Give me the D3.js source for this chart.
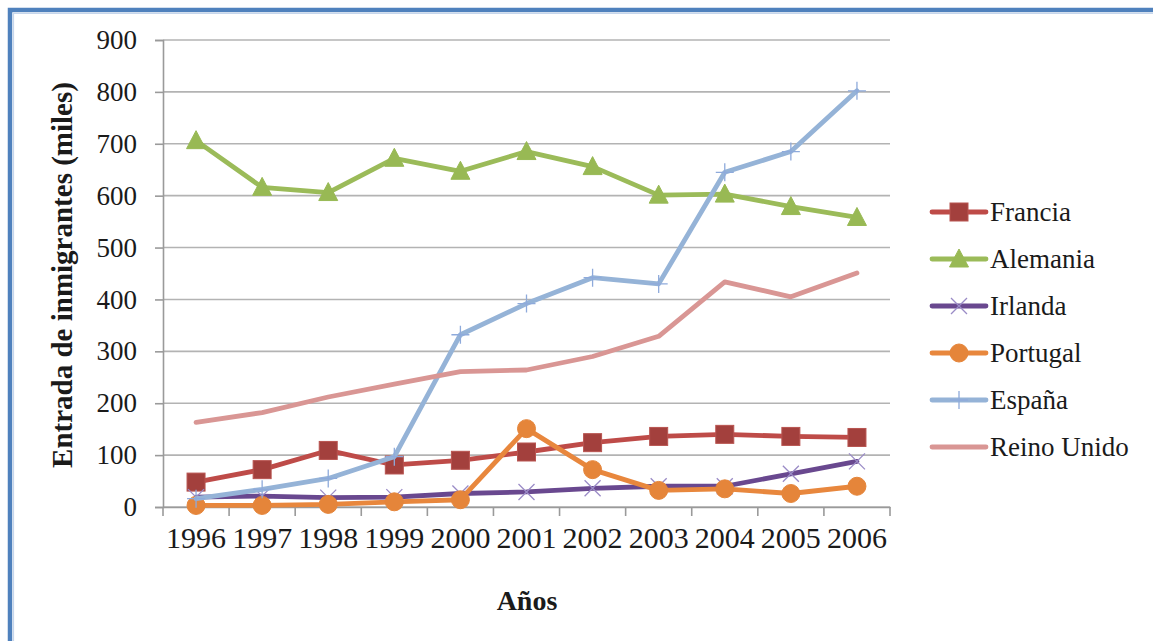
<!DOCTYPE html>
<html>
<head>
<meta charset="utf-8">
<script src="https://cdn.jsdelivr.net/npm/d3@7"></script>
<style>
  html, body { margin: 0; padding: 0; background: #fff; }
  svg { display: block; font-family: "Liberation Serif", "DejaVu Serif", serif; }
</style>
</head>
<body>
<svg id="chart" width="1153" height="641"></svg>
<script>
const years = ["1996", "1997", "1998", "1999", "2000", "2001", "2002", "2003", "2004", "2005", "2006"];
const yTicks = [0, 100, 200, 300, 400, 500, 600, 700, 800, 900];

const francia   = [48, 72, 109, 81, 90, 106, 124, 136, 140, 136, 134];
const alemania  = [706, 616, 606, 672, 647, 685, 656, 601, 603, 579, 558];
const irlanda   = [19, 21, 18, 19, 26, 29, 36, 40, 40, 64, 88];
const portugal  = [3, 3, 5, 10, 14, 151, 72, 32, 35, 26, 40];
const espana    = [16, 34, 55, 97, 332, 392, 442, 430, 645, 685, 802];
const reinoUnido = [163, 182, 212, 237, 261, 264, 290, 329, 434, 405, 451];

const series = [
  { name: "Francia", values: francia, color: "#BE4B48", marker: "square", mfill: "#A3403D", mstroke: "#B85450" },
  { name: "Alemania", values: alemania, color: "#9BBB59", marker: "triangle", mfill: "#98B954", mstroke: "#98B954" },
  { name: "Irlanda", values: irlanda, color: "#69488F", marker: "x", mfill: "none", mstroke: "#9A8BC6" },
  { name: "Portugal", values: portugal, color: "#E8873D", marker: "circle", mfill: "#E5853A", mstroke: "#E5853A" },
  { name: "España", values: espana, color: "#95B3D7", marker: "plus", mfill: "none", mstroke: "#8EAADB" },
  { name: "Reino Unido", values: reinoUnido, color: "#D99694", marker: "none" }
];

const svg = d3.select("#chart");

// marco azul (solo se ven arriba e izquierda)
svg.append("path")
  .attr("d", "M10,645V10H1160")
  .attr("fill", "none")
  .attr("stroke", "#4F81BD")
  .attr("stroke-width", 4.5);
svg.append("path")
  .attr("d", "M13.5,645V13.5H1160")
  .attr("fill", "none")
  .attr("stroke", "#C6D6EC")
  .attr("stroke-width", 1.2);

const x = d3.scaleBand().domain(years).range([163, 890]);
const y = d3.scaleLinear().domain([0, 900]).range([507, 40]);
const cx = d => x(d) + x.bandwidth() / 2;

// rejilla
svg.append("g")
  .selectAll("line")
  .data(yTicks)
  .join("line")
  .attr("x1", 163).attr("x2", 890)
  .attr("y1", d => y(d)).attr("y2", d => y(d))
  .attr("stroke", "#B3B3B3")
  .attr("stroke-width", 1.6);

// eje Y
const yAxis = svg.append("g")
  .attr("transform", "translate(163,0)")
  .call(d3.axisLeft(y).tickValues(yTicks).tickSize(8).tickPadding(18));
yAxis.select(".domain").attr("stroke", "#9A9A9A").attr("stroke-width", 1.6);
yAxis.selectAll(".tick line").attr("stroke", "#9A9A9A").attr("stroke-width", 1.6);
yAxis.selectAll(".tick text")
  .attr("font-family", "Liberation Serif")
  .attr("font-size", 27)
  .attr("fill", "#1a1a1a");

// eje X
const xAxis = svg.append("g")
  .attr("transform", "translate(0,507)")
  .call(d3.axisBottom(x).tickSize(0).tickPadding(20));
xAxis.select(".domain").attr("stroke", "#9A9A9A").attr("stroke-width", 1.6);
xAxis.selectAll(".tick text")
  .attr("font-family", "Liberation Serif")
  .attr("font-size", 30)
  .attr("fill", "#1a1a1a");
xAxis.selectAll("line.sep")
  .data(years.map(d => x(d)).concat([x.range()[1]]))
  .join("line")
  .attr("class", "sep")
  .attr("x1", d => d).attr("x2", d => d)
  .attr("y1", 0).attr("y2", 9)
  .attr("stroke", "#9A9A9A")
  .attr("stroke-width", 1.6);

// títulos de ejes
svg.append("text")
  .attr("transform", "translate(72,275) rotate(-90)")
  .attr("text-anchor", "middle")
  .attr("font-size", 29)
  .attr("font-weight", "bold")
  .attr("fill", "#1a1a1a")
  .text("Entrada de inmigrantes (miles)");

svg.append("text")
  .attr("x", 527)
  .attr("y", 610)
  .attr("text-anchor", "middle")
  .attr("font-size", 28)
  .attr("font-weight", "bold")
  .attr("fill", "#1a1a1a")
  .text("Años");

function drawMarker(g, s, px, py) {
  if (s.marker === "square") {
    g.append("rect").attr("x", px - 9).attr("y", py - 9).attr("width", 18).attr("height", 18)
      .attr("fill", s.mfill).attr("stroke", s.mstroke).attr("stroke-width", 1);
  } else if (s.marker === "triangle") {
    g.append("path").attr("d", `M${px},${py - 10}L${px + 9.5},${py + 8}L${px - 9.5},${py + 8}Z`)
      .attr("fill", s.mfill).attr("stroke", s.mstroke).attr("stroke-width", 1);
  } else if (s.marker === "circle") {
    g.append("circle").attr("cx", px).attr("cy", py).attr("r", 9)
      .attr("fill", s.mfill).attr("stroke", s.mstroke).attr("stroke-width", 1);
  } else if (s.marker === "x") {
    g.append("path").attr("d", `M${px - 8},${py - 8}L${px + 8},${py + 8}M${px - 8},${py + 8}L${px + 8},${py - 8}`)
      .attr("stroke", s.mstroke).attr("stroke-width", 1.3).attr("fill", "none");
  } else if (s.marker === "plus") {
    g.append("path").attr("d", `M${px - 9},${py}L${px + 9},${py}M${px},${py - 9}L${px},${py + 9}`)
      .attr("stroke", s.mstroke).attr("stroke-width", 1.3).attr("fill", "none");
  }
}

// series
const line = d3.line()
  .x((d, i) => cx(years[i]))
  .y(d => y(d));

series.forEach(s => {
  const g = svg.append("g");
  g.append("path")
    .attr("d", line(s.values))
    .attr("fill", "none")
    .attr("stroke", s.color)
    .attr("stroke-width", 4.8)
    .attr("stroke-linejoin", "round")
    .attr("stroke-linecap", "round");
  s.values.forEach((v, i) => drawMarker(g, s, cx(years[i]), y(v)));
});

// leyenda
const legend = svg.append("g");
series.forEach((s, i) => {
  const ly = 212 + i * 47;
  const g = legend.append("g");
  g.append("line")
    .attr("x1", 932).attr("x2", 986)
    .attr("y1", ly).attr("y2", ly)
    .attr("stroke", s.color)
    .attr("stroke-width", 4.8)
    .attr("stroke-linecap", "round");
  drawMarker(g, s, 959, ly);
  g.append("text")
    .attr("x", 990)
    .attr("y", ly)
    .attr("dy", "0.35em")
    .attr("font-size", 27)
    .attr("fill", "#1a1a1a")
    .text(s.name);
});
</script>
</body>
</html>
